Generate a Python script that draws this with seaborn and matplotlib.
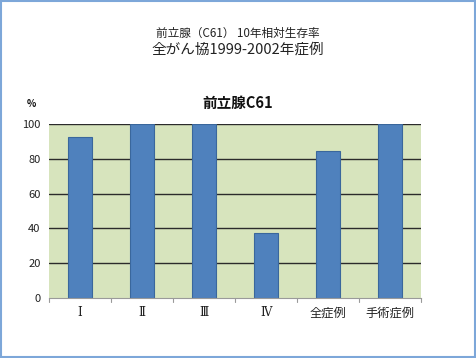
import matplotlib
matplotlib.use("Agg")
import matplotlib.pyplot as plt
import seaborn as sns
import pandas as pd
from matplotlib.patches import Rectangle

categories = ["Ⅰ", "Ⅱ", "Ⅲ", "Ⅳ", "全症例", "手術症例"]
values = [92.8, 100, 100, 37.5, 84.2, 100]
yticks = [0, 20, 40, 60, 80, 100]

sns.set_theme(style="white")
plt.rcParams['font.family'] = ['Noto Sans CJK JP', 'DejaVu Sans']

df = pd.DataFrame({"cat": categories, "val": values})

fig = plt.figure(figsize=(4.76, 3.58), dpi=100)
ax = fig.add_axes([49/476, 1 - 298/358, (421-49)/476, (298-124)/358])
ax.set_facecolor("#D7E4BD")
ax.set_axisbelow(True)
for y in yticks[1:]:
    ax.axhline(y, color="#2b2b2b", lw=1.0, zorder=0)

sns.barplot(data=df, x="cat", y="val", ax=ax, color="#4F81BD", width=0.39,
            saturation=1, edgecolor="#3A679C", linewidth=0.8, zorder=2)

ax.set_ylim(0, 100)
ax.set_xlim(-0.5, 5.5)
ax.set_yticks(yticks)
ax.set_yticklabels([str(v) for v in yticks], fontsize=8, color="#222222")
ax.set_xlabel("")
ax.set_ylabel("")
ax.tick_params(axis="y", length=0, pad=6)
ax.tick_params(axis="x", length=0, pad=6, labelsize=8.8, labelcolor="#222222")
for lbl in ax.get_xticklabels():
    if lbl.get_text() in ("Ⅰ", "Ⅱ", "Ⅲ", "Ⅳ"):
        lbl.set_fontfamily(['DejaVu Serif', 'Noto Sans CJK JP'])
        lbl.set_fontsize(8.5)
for s in ["top", "right", "left"]:
    ax.spines[s].set_visible(False)
ax.spines["bottom"].set_color("#9a9a9a")
ax.spines["bottom"].set_linewidth(0.8)
for b in [i - 0.5 for i in range(7)]:
    ax.plot([b, b], [0, -2.5], color="#9a9a9a", lw=0.8, clip_on=False)

fig.text(0.5, 1 - 33/358, "前立腺（C61） 10年相対生存率", ha="center", va="center",
         fontsize=8.4, color="#222222")
fig.text(0.5, 1 - 50/358, "全がん協1999-2002年症例", ha="center", va="center",
         fontsize=10.5, color="#222222")
fig.text(0.5, 1 - 103/358, "前立腺C61", ha="center", va="center",
         fontsize=10.5, fontweight="bold", color="#111111")
fig.text(31/476, 1 - 104/358, "%", ha="center", va="center",
         fontsize=7, fontweight="bold", color="#111111")

fig.patches.append(Rectangle((0.002, 0.003), 0.996, 0.994, transform=fig.transFigure,
                             fill=False, edgecolor="#7DA7D9", linewidth=1.5))

fig.savefig("out.png", dpi=100)
